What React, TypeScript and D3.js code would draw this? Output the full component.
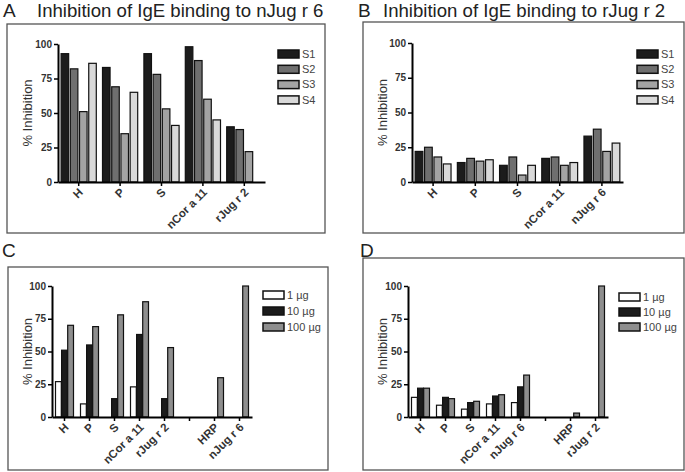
import React, { useEffect, useRef } from 'react';
import * as d3 from 'd3';

const width = 685;
const height = 472;
const font = "'Liberation Sans', Arial, Helvetica, sans-serif";

// top row: sera S1-S4
const seriesS = ['S1', 'S2', 'S3', 'S4'];
const colorsS = ['#1c1c1c', '#6f6f6f', '#a3a3a3', '#d9d9d9'];

const groupsA = ['H', 'P', 'S', 'nCor a 11', 'rJug r 2'];
const a_S1 = [93, 83, 93, 98, 40];
const a_S2 = [82, 69, 78, 88, 38];
const a_S3 = [51, 35, 53, 60, 22];
const a_S4 = [86, 65, 41, 45, null];

const groupsB = ['H', 'P', 'S', 'nCor a 11', 'nJug r 6'];
const b_S1 = [22, 14, 12, 17, 33];
const b_S2 = [25, 17, 18, 18, 38];
const b_S3 = [18, 15, 5, 12, 22];
const b_S4 = [13, 16, 12, 14, 28];

// bottom row: inhibitor amount
const seriesUg = ['1 µg', '10 µg', '100 µg'];
const colorsUg = ['#ffffff', '#1c1c1c', '#8e8e8e'];

const groupsC = ['H', 'P', 'S', 'nCor a 11', 'rJug r 2', '', 'HRP', 'nJug r 6'];
const c_1ug = [27, 10, null, 23, null, null, null, null];
const c_10ug = [51, 55, 14, 63, 14, null, null, null];
const c_100ug = [70, 69, 78, 88, 53, null, 30, 100];

const groupsD = ['H', 'P', 'S', 'nCor a 11', 'nJug r 6', '', 'HRP', 'rJug r 2'];
const d_1ug = [15, 9, 6, 10, 11, null, null, null];
const d_10ug = [22, 15, 11, 16, 23, null, null, null];
const d_100ug = [22, 14, 12, 17, 32, null, 3, 100];

const yTicks = [0, 25, 50, 75, 100];

const panels = [
  {
    letter: 'A', title: 'Inhibition of IgE binding to nJug r 6', lx: 3, tx: 37, ty: 17,
    frame: [7, 24, 318, 209], plot: { left: 58, right: 265, top: 44, bottom: 182 },
    groups: groupsA, series: seriesS, colors: colorsS, values: [a_S1, a_S2, a_S3, a_S4],
    pad: [0.15, 0.075, 0.18], legend: { x: 278, y: 54, step: 15.3 }, ylab: 27,
  },
  {
    letter: 'B', title: 'Inhibition of IgE binding to rJug r 2', lx: 358, tx: 383, ty: 17,
    frame: [363, 22, 321, 211], plot: { left: 412, right: 623, top: 43, bottom: 182 },
    groups: groupsB, series: seriesS, colors: colorsS, values: [b_S1, b_S2, b_S3, b_S4],
    pad: [0.15, 0.075, 0.18], legend: { x: 637, y: 54, step: 15.3 }, ylab: 382,
  },
  {
    letter: 'C', title: '', lx: 2, tx: 0, ty: 257,
    frame: [8, 267, 320, 203], plot: { left: 52, right: 252, top: 286, bottom: 417 },
    groups: groupsC, series: seriesUg, colors: colorsUg, values: [c_1ug, c_10ug, c_100ug],
    pad: [0.28, 0.14, 0.05], legend: { x: 263, y: 295, step: 16 }, ylab: 27,
  },
  {
    letter: 'D', title: '', lx: 360, tx: 0, ty: 257,
    frame: [363, 258, 321, 212], plot: { left: 408, right: 608, top: 286, bottom: 417 },
    groups: groupsD, series: seriesUg, colors: colorsUg, values: [d_1ug, d_10ug, d_100ug],
    pad: [0.28, 0.14, 0.05], legend: { x: 619, y: 297, step: 15 }, ylab: 382,
  },
];

export default function App() {
  const ref = useRef<SVGSVGElement>(null);

  useEffect(() => {
    const svg = d3.select(ref.current);
    svg.selectAll('*').remove();

    panels.forEach((p) => {
      const g = svg.append('g');

      // frame
      g.append('rect')
        .attr('x', p.frame[0]).attr('y', p.frame[1])
        .attr('width', p.frame[2]).attr('height', p.frame[3])
        .attr('fill', 'none').attr('stroke', '#555').attr('stroke-width', 1.3);

      // panel letter + title
      g.append('text').attr('x', p.lx).attr('y', p.ty)
        .attr('font-size', 19).attr('fill', '#222').text(p.letter);
      if (p.title) {
        g.append('text').attr('x', p.tx).attr('y', p.ty)
          .attr('font-size', 18.6).attr('fill', '#222').text(p.title);
      }

      const x0 = d3.scaleBand<string>()
        .domain(p.groups.map((d, i) => String(i)))
        .range([p.plot.left, p.plot.right])
        .paddingInner(p.pad[0]).paddingOuter(p.pad[1]);
      const x1 = d3.scaleBand<string>()
        .domain(p.series)
        .range([0, x0.bandwidth()])
        .paddingInner(p.pad[2]);
      const y = d3.scaleLinear().domain([0, 100]).range([p.plot.bottom, p.plot.top]);

      // bars
      p.series.forEach((s, si) => {
        const vals = p.values[si];
        g.append('g').selectAll('rect')
          .data(vals.map((v, i) => ({ v, i })).filter((d) => d.v !== null))
          .enter().append('rect')
          .attr('x', (d) => x0(String(d.i))! + x1(s)!)
          .attr('y', (d) => y(d.v as number))
          .attr('width', x1.bandwidth())
          .attr('height', (d) => y(0) - y(d.v as number))
          .attr('fill', p.colors[si])
          .attr('stroke', '#111').attr('stroke-width', 1.2);
      });

      // y axis
      const yAxis = d3.axisLeft(y).tickValues(yTicks).tickSize(4).tickSizeOuter(0).tickPadding(2);
      const yg = g.append('g').attr('transform', `translate(${p.plot.left},0)`).call(yAxis);
      yg.select('.domain').attr('stroke', '#000').attr('stroke-width', 2);
      yg.selectAll('.tick line').attr('stroke', '#000').attr('stroke-width', 1.5);
      yg.selectAll('.tick text').attr('font-family', font).attr('font-size', 10)
        .attr('font-weight', 'bold').attr('fill', '#333');

      // x axis
      const xAxis = d3.axisBottom(x0).tickSize(4).tickSizeOuter(0).tickFormat(() => '');
      const xg = g.append('g').attr('transform', `translate(0,${p.plot.bottom})`).call(xAxis);
      xg.select('.domain').attr('stroke', '#000').attr('stroke-width', 2);
      xg.selectAll('.tick line').attr('stroke', '#000').attr('stroke-width', 1.5);

      // rotated category labels
      p.groups.forEach((label, i) => {
        const lx = x0(String(i))! + x0.bandwidth() / 2 + 5;
        const ly = p.plot.bottom + 11;
        g.append('text')
          .attr('x', lx).attr('y', ly)
          .attr('transform', `rotate(-45 ${lx} ${ly})`)
          .attr('text-anchor', 'end')
          .attr('font-size', 11.5)
          .attr('font-weight', 'bold')
          .attr('fill', '#333')
          .text(label);
      });

      // y label
      const yl = (p.plot.top + p.plot.bottom) / 2;
      g.append('text')
        .attr('x', p.ylab).attr('y', yl)
        .attr('transform', `rotate(-90 ${p.ylab} ${yl})`)
        .attr('text-anchor', 'middle')
        .attr('dy', '0.35em')
        .attr('font-size', 13)
        .attr('fill', '#333')
        .text('% Inhibition');

      // legend
      p.series.forEach((s, si) => {
        const ly = p.legend.y + si * p.legend.step;
        g.append('rect')
          .attr('x', p.legend.x).attr('y', ly - 4)
          .attr('width', 21).attr('height', 8)
          .attr('fill', p.colors[si]).attr('stroke', '#111').attr('stroke-width', 1.5);
        g.append('text')
          .attr('x', p.legend.x + 24).attr('y', ly)
          .attr('dy', '0.35em')
          .attr('font-size', 11)
          .attr('fill', '#444')
          .text(s);
      });
    });
  }, []);

  return (
    <svg ref={ref} width={width} height={height}
      style={{ position: 'absolute', left: 0, top: 0, background: '#fff', fontFamily: font }} />
  );
}
